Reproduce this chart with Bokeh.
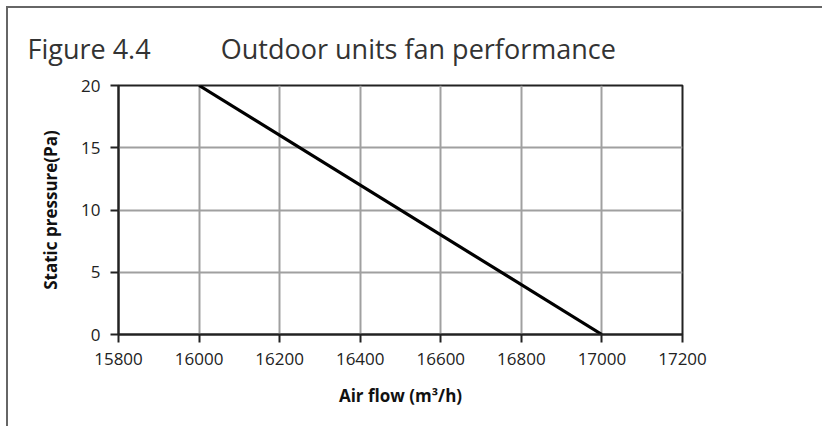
from bokeh.plotting import figure
from bokeh.models import FixedTicker, Range1d
from bokeh.embed import file_html
from bokeh.resources import INLINE

air_flow = [16000, 17000]
static_pressure = [20, 0]
x_ticks = [15800, 16000, 16200, 16400, 16600, 16800, 17000, 17200]
y_ticks = [0, 5, 10, 15, 20]
title_num = "Figure 4.4"
title_text = "Outdoor units fan performance"
x_label = "Air flow (m³/h)"
y_label = "Static pressure(Pa)"

W, H = 816, 420
FL, FR, FT, FB = 110, 142, 77, 94
p = figure(width=W, height=H, output_backend="svg", toolbar_location=None,
           x_range=Range1d(15800, 17200), y_range=Range1d(0, 20),
           min_border_left=FL, min_border_right=FR, min_border_top=FT, min_border_bottom=FB)
p.styles = {"border-left": "2px solid #666666", "border-top": "2px solid #666666",
            "box-sizing": "border-box", "margin-left": "6px", "margin-top": "6px"}

p.line(air_flow, static_pressure, line_color="black", line_width=3.2)

for ax in (p.xaxis[0], p.yaxis[0]):
    ax.axis_line_color = "#222222"
    ax.axis_line_width = 2
    ax.major_tick_line_color = "#222222"
    ax.major_tick_line_width = 2
    ax.major_tick_out = 8
    ax.major_tick_in = 0
    ax.minor_tick_line_color = None
    ax.major_label_text_font = "Open Sans"
    ax.major_label_text_font_size = "17px"
    ax.major_label_text_color = "#222222"
    ax.axis_label_text_font = "Open Sans"
    ax.axis_label_text_font_style = "bold"
    ax.axis_label_text_font_size = "17px"
    ax.axis_label_text_color = "#111111"

p.xaxis.ticker = FixedTicker(ticks=x_ticks)
p.yaxis.ticker = FixedTicker(ticks=y_ticks)
p.xaxis.axis_label = x_label
p.yaxis.axis_label = y_label
p.xaxis.axis_label_standoff = 16
p.yaxis.axis_label_standoff = 16
p.xaxis.major_label_standoff = 10
p.yaxis.major_label_standoff = 10

p.xgrid.grid_line_color = "#a0a0a0"
p.ygrid.grid_line_color = "#a0a0a0"
p.xgrid.grid_line_width = 2
p.ygrid.grid_line_width = 2
p.outline_line_color = "#222222"
p.outline_line_width = 2
p.outline_line_alpha = 1

gap = "\u00a0" * 10
p.title.text = title_num + gap + title_text
p.title.align = "left"
p.title.offset = 19 - FL
p.title.standoff = 38
p.title.text_line_height = 0.8
p.title.text_font = "Open Sans"
p.title.text_font_size = "27px"
p.title.text_font_style = "normal"
p.title.text_color = "#333333"

open("out.html", "w").write(file_html(p, INLINE))
